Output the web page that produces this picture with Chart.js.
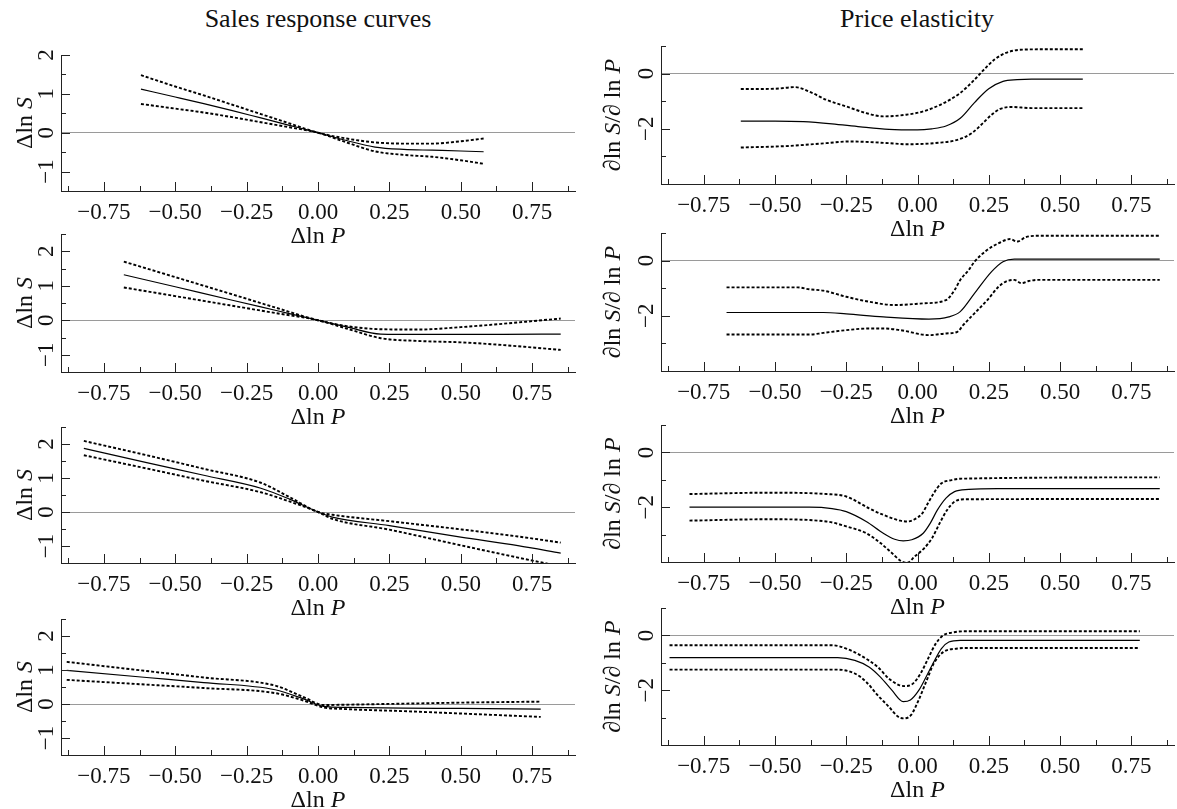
<!DOCTYPE html>
<html>
<head>
<meta charset="utf-8">
<script src="https://cdn.jsdelivr.net/npm/chart.js@4.4.1/dist/chart.umd.min.js"></script>
<style>
  body { margin: 0; background: #fff; }
  #page { position: relative; width: 1177px; height: 809px; overflow: hidden; background: #fff; }
  #page canvas { position: absolute; }
  .coltitle { position: absolute; top: 6px; font: 26px/26px "Liberation Serif", "Times New Roman", serif; color: #111; white-space: nowrap; transform: translateX(-50%); }
</style>
</head>
<body>
<div id="page">
  <div class="coltitle" style="left:318px">Sales response curves</div>
  <div class="coltitle" style="left:917px">Price elasticity</div>
</div>
<script>
// x axis ticks (shared by all panels)
const xTickValues = [-0.875, -0.75, -0.625, -0.5, -0.375, -0.25, -0.125, 0, 0.125, 0.25, 0.375, 0.5, 0.625, 0.75, 0.875];
const xTickLabels = ['', '−0.75', '', '−0.50', '', '−0.25', '', '0.00', '', '0.25', '', '0.50', '', '0.75', ''];

// y axis ticks
const salesTicksTop = [-1, -0.5, 0, 0.5, 1, 1.5, 2];
const salesLabelsTop = ['−1', '', '0', '', '1', '', '2'];
const salesTicks = [-1, -0.5, 0, 0.5, 1, 1.5, 2, 2.5];
const salesLabels = ['−1', '', '0', '', '1', '', '2', ''];
const elastTicks = [-3, -2, -1, 0, 1];
const elastLabels = ['', '−2', '', '0', ''];

// sales response curves (left column)
const l1X = [-0.62, -0.5, -0.4, -0.3, -0.2, -0.1, 0, 0.1, 0.2, 0.3, 0.4, 0.5, 0.58];
const l1Mid = [1.12, 0.92, 0.75, 0.57, 0.38, 0.19, 0, -0.2, -0.37, -0.43, -0.45, -0.47, -0.49];
const l1Hi = [1.48, 1.19, 0.96, 0.72, 0.48, 0.24, 0, -0.15, -0.25, -0.28, -0.28, -0.22, -0.15];
const l1Lo = [0.74, 0.62, 0.52, 0.40, 0.27, 0.14, 0, -0.25, -0.48, -0.57, -0.62, -0.71, -0.80];

const l2X = [-0.68, -0.5, -0.3, -0.15, 0, 0.1, 0.22, 0.35, 0.5, 0.65, 0.85];
const l2Mid = [1.32, 0.97, 0.58, 0.29, 0, -0.19, -0.40, -0.41, -0.41, -0.41, -0.40];
const l2Hi = [1.70, 1.25, 0.75, 0.37, 0, -0.17, -0.26, -0.27, -0.20, -0.10, 0.05];
const l2Lo = [0.95, 0.70, 0.42, 0.21, 0, -0.24, -0.52, -0.60, -0.64, -0.72, -0.86];

const l3X = [-0.82, -0.6, -0.4, -0.2, -0.1, 0, 0.05, 0.25, 0.5, 0.7, 0.85];
const l3Mid = [1.87, 1.45, 1.08, 0.70, 0.38, 0, -0.15, -0.40, -0.74, -0.99, -1.21];
const l3Hi = [2.09, 1.67, 1.27, 0.86, 0.44, 0, -0.08, -0.27, -0.51, -0.72, -0.90];
const l3Lo = [1.67, 1.28, 0.92, 0.58, 0.31, 0, -0.20, -0.52, -0.98, -1.34, -1.60];

const l4X = [-0.88, -0.6, -0.4, -0.15, -0.05, 0.02, 0.1, 0.3, 0.5, 0.78];
const l4Mid = [0.99, 0.78, 0.63, 0.42, 0.15, -0.07, -0.10, -0.12, -0.13, -0.15];
const l4Hi = [1.24, 0.97, 0.78, 0.54, 0.20, -0.03, -0.02, 0.01, 0.04, 0.07];
const l4Lo = [0.71, 0.57, 0.47, 0.32, 0.10, -0.10, -0.15, -0.21, -0.28, -0.38];

// price elasticity (right column)
const r1MidX = [-0.62, -0.5, -0.4, -0.3, -0.2, -0.1, 0, 0.05, 0.1, 0.15, 0.2, 0.25, 0.3, 0.35, 0.4, 0.5, 0.58];
const r1Mid = [-1.72, -1.72, -1.74, -1.82, -1.93, -2.02, -2.04, -2.0, -1.9, -1.62, -1.05, -0.55, -0.28, -0.22, -0.2, -0.2, -0.2];
const r1HiX = [-0.62, -0.5, -0.43, -0.37, -0.32, -0.25, -0.18, -0.12, -0.04, 0.02, 0.08, 0.15, 0.2, 0.245, 0.27, 0.31, 0.37, 0.45, 0.58];
const r1Hi = [-0.56, -0.55, -0.49, -0.70, -0.95, -1.19, -1.43, -1.55, -1.49, -1.37, -1.13, -0.70, -0.22, 0.27, 0.51, 0.75, 0.87, 0.88, 0.88];
const r1LoX = [-0.62, -0.45, -0.32, -0.24, -0.1, -0.04, 0.08, 0.14, 0.19, 0.23, 0.26, 0.29, 0.33, 0.4, 0.58];
const r1Lo = [-2.68, -2.62, -2.52, -2.46, -2.52, -2.56, -2.50, -2.40, -2.16, -1.79, -1.49, -1.28, -1.21, -1.25, -1.25];

const r2MidX = [-0.67, -0.33, -0.25, -0.12, 0.04, 0.11, 0.15, 0.2, 0.26, 0.3, 0.34, 0.5, 0.85];
const r2Mid = [-1.88, -1.88, -1.93, -2.04, -2.12, -2.04, -1.85, -1.19, -0.40, -0.04, 0.05, 0.05, 0.05];
const r2HiX = [-0.67, -0.42, -0.38, -0.33, -0.25, -0.17, -0.08, 0.02, 0.1, 0.13, 0.15, 0.18, 0.2, 0.245, 0.285, 0.325, 0.35, 0.38, 0.42, 0.85];
const r2Hi = [-0.97, -0.97, -1.04, -1.09, -1.31, -1.49, -1.61, -1.55, -1.43, -1.07, -0.70, -0.34, -0.04, 0.39, 0.63, 0.78, 0.69, 0.85, 0.90, 0.90];
const r2LoX = [-0.67, -0.38, -0.33, -0.25, -0.17, -0.12, -0.06, 0.04, 0.1, 0.14, 0.16, 0.2, 0.245, 0.285, 0.31, 0.34, 0.365, 0.39, 0.42, 0.85];
const r2Lo = [-2.68, -2.68, -2.62, -2.52, -2.46, -2.46, -2.52, -2.70, -2.64, -2.58, -2.34, -1.91, -1.43, -0.94, -0.76, -0.70, -0.82, -0.74, -0.70, -0.70];

const r3MidX = [-0.8, -0.38, -0.3, -0.25, -0.18, -0.12, -0.08, -0.05, -0.02, 0.02, 0.045, 0.07, 0.1, 0.13, 0.18, 0.28, 0.85];
const r3Mid = [-2.0, -2.0, -2.05, -2.16, -2.52, -2.95, -3.17, -3.23, -3.19, -2.95, -2.58, -2.10, -1.67, -1.43, -1.35, -1.32, -1.32];
const r3HiX = [-0.8, -0.52, -0.32, -0.25, -0.17, -0.12, -0.06, -0.035, -0.01, 0.017, 0.037, 0.057, 0.084, 0.12, 0.15, 0.85];
const r3Hi = [-1.52, -1.47, -1.52, -1.61, -2.04, -2.28, -2.49, -2.52, -2.44, -2.22, -1.85, -1.49, -1.13, -1.01, -0.96, -0.91];
const r3LoX = [-0.8, -0.52, -0.32, -0.25, -0.18, -0.13, -0.09, -0.056, -0.036, -0.01, 0.024, 0.051, 0.078, 0.104, 0.13, 0.165, 0.85];
const r3Lo = [-2.49, -2.44, -2.52, -2.70, -2.95, -3.31, -3.67, -3.98, -4.03, -3.80, -3.49, -3.13, -2.58, -2.10, -1.80, -1.71, -1.70];

const r4MidX = [-0.87, -0.28, -0.22, -0.17, -0.13, -0.09, -0.05, -0.025, 0.005, 0.03, 0.057, 0.084, 0.11, 0.15, 0.78];
const r4Mid = [-0.81, -0.81, -0.91, -1.15, -1.52, -2.0, -2.42, -2.36, -2.0, -1.52, -0.97, -0.48, -0.24, -0.18, -0.18];
const r4HiX = [-0.87, -0.3, -0.25, -0.2, -0.14, -0.1, -0.063, -0.043, -0.016, 0.011, 0.037, 0.064, 0.09, 0.12, 0.165, 0.78];
const r4Hi = [-0.36, -0.36, -0.48, -0.73, -1.15, -1.58, -1.82, -1.85, -1.76, -1.39, -0.85, -0.30, 0.0, 0.10, 0.15, 0.15];
const r4LoX = [-0.87, -0.28, -0.22, -0.18, -0.14, -0.1, -0.07, -0.05, -0.023, 0.004, 0.03, 0.057, 0.09, 0.14, 0.165, 0.78];
const r4Lo = [-1.25, -1.25, -1.39, -1.70, -2.18, -2.61, -2.95, -3.03, -2.91, -2.36, -1.70, -1.03, -0.61, -0.48, -0.46, -0.46];

const SERIF = '"Liberation Serif", "Times New Roman", serif';
const TOPPAD = 14;

// column layout
const cols = [
  { canvasLeft: 0, width: 590, plotLeft: 61, plotRight: 575, yTitleX: 32,
    yTitle: [['Δln ', false], ['S', true]] },
  { canvasLeft: 590, width: 587, plotLeft: 661, plotRight: 1174, yTitleX: 620,
    yTitle: [['∂ln ', false], ['S', true], ['/∂ ln ', false], ['P', true]] }
];
const xTitle = [['Δln ', false], ['P', true]];

const pts = (xs, ys) => xs.map((x, i) => ({ x, y: ys[i] }));

const panels = [
  { col: 0, top: 55, bottom: 191, min: -1.5, max: 2, ticks: salesTicksTop, labels: salesLabelsTop,
    mid: pts(l1X, l1Mid), hi: pts(l1X, l1Hi), lo: pts(l1X, l1Lo) },
  { col: 0, top: 234, bottom: 372, min: -1.5, max: 2.5, ticks: salesTicks, labels: salesLabels,
    mid: pts(l2X, l2Mid), hi: pts(l2X, l2Hi), lo: pts(l2X, l2Lo) },
  { col: 0, top: 427, bottom: 563, min: -1.5, max: 2.5, ticks: salesTicks, labels: salesLabels,
    mid: pts(l3X, l3Mid), hi: pts(l3X, l3Hi), lo: pts(l3X, l3Lo) },
  { col: 0, top: 619, bottom: 755, min: -1.5, max: 2.5, ticks: salesTicks, labels: salesLabels,
    mid: pts(l4X, l4Mid), hi: pts(l4X, l4Hi), lo: pts(l4X, l4Lo) },
  { col: 1, top: 46, bottom: 184, min: -4, max: 1, ticks: elastTicks, labels: elastLabels,
    mid: pts(r1MidX, r1Mid), hi: pts(r1HiX, r1Hi), lo: pts(r1LoX, r1Lo) },
  { col: 1, top: 233, bottom: 371, min: -4, max: 1, ticks: elastTicks, labels: elastLabels,
    mid: pts(r2MidX, r2Mid), hi: pts(r2HiX, r2Hi), lo: pts(r2LoX, r2Lo) },
  { col: 1, top: 425, bottom: 562, min: -4, max: 1, ticks: elastTicks, labels: elastLabels,
    mid: pts(r3MidX, r3Mid), hi: pts(r3HiX, r3Hi), lo: pts(r3LoX, r3Lo) },
  { col: 1, top: 608, bottom: 745, min: -4, max: 1, ticks: elastTicks, labels: elastLabels,
    mid: pts(r4MidX, r4Mid), hi: pts(r4HiX, r4Hi), lo: pts(r4LoX, r4Lo) }
];

// text with italic parts, centred on (x, y), optionally rotated
function drawRich(ctx, parts, x, y, rot, size) {
  ctx.save();
  ctx.translate(x, y);
  ctx.rotate(rot);
  ctx.textAlign = 'left';
  ctx.textBaseline = 'alphabetic';
  const fonts = parts.map(p => (p[1] ? 'italic ' : '') + size + 'px ' + SERIF);
  let total = 0;
  const widths = parts.map((p, i) => { ctx.font = fonts[i]; const w = ctx.measureText(p[0]).width; total += w; return w; });
  let cx = -total / 2;
  parts.forEach((p, i) => { ctx.font = fonts[i]; ctx.fillText(p[0], cx, 0); cx += widths[i]; });
  ctx.restore();
}

// inward tick marks, rotated y labels and axis titles
const axisDecor = {
  id: 'axisDecor',
  afterDraw(chart, args, opts) {
    const { ctx, chartArea: a, scales: { x, y } } = chart;
    const p = opts.panel;
    const col = cols[p.col];
    ctx.save();
    ctx.strokeStyle = '#222';
    ctx.lineWidth = 1;
    ctx.beginPath();
    xTickValues.forEach((v, i) => {
      const px = Math.round(x.getPixelForValue(v)) + 0.5;
      const len = xTickLabels[i] ? 9 : 5;
      ctx.moveTo(px, a.bottom);
      ctx.lineTo(px, a.bottom - len);
    });
    p.ticks.forEach((v, i) => {
      const py = Math.round(y.getPixelForValue(v)) + 0.5;
      const len = p.labels[i] ? 9 : 5;
      ctx.moveTo(a.left, py);
      ctx.lineTo(a.left + len, py);
    });
    ctx.stroke();

    ctx.fillStyle = '#111';
    ctx.font = '23px ' + SERIF;
    ctx.textAlign = 'center';
    ctx.textBaseline = 'alphabetic';
    p.ticks.forEach((v, i) => {
      if (!p.labels[i]) return;
      ctx.save();
      ctx.translate(a.left - 8, y.getPixelForValue(v));
      ctx.rotate(-Math.PI / 2);
      ctx.fillText(p.labels[i], 0, 0);
      ctx.restore();
    });

    drawRich(ctx, xTitle, (a.left + a.right) / 2, a.bottom + 52, 0, 24);
    drawRich(ctx, col.yTitle, col.yTitleX - col.canvasLeft, (a.top + a.bottom) / 2, -Math.PI / 2, 24);
    ctx.restore();
  }
};

const page = document.getElementById('page');

panels.forEach(p => {
  const col = cols[p.col];
  const plotH = p.bottom - p.top;
  const W = col.width;
  const H = plotH + TOPPAD + 80;
  const canvas = document.createElement('canvas');
  canvas.width = W;
  canvas.height = H;
  canvas.style.left = col.canvasLeft + 'px';
  canvas.style.top = (p.top - TOPPAD) + 'px';
  page.appendChild(canvas);

  const line = (data, dotted) => ({
    data,
    borderColor: '#000',
    borderWidth: dotted ? 1.9 : 1.2,
    borderDash: dotted ? [3, 2] : [],
    pointRadius: 0,
    fill: false,
    tension: 0.4,
    cubicInterpolationMode: 'monotone'
  });

  new Chart(canvas, {
    type: 'line',
    data: { datasets: [line(p.hi, true), line(p.lo, true), line(p.mid, false)] },
    options: {
      responsive: false,
      animation: false,
      events: [],
      layout: { padding: { left: 0, top: TOPPAD, right: W - (col.plotRight - col.canvasLeft), bottom: 0 } },
      plugins: { legend: { display: false }, tooltip: { enabled: false }, axisDecor: { panel: p } },
      scales: {
        x: {
          type: 'linear', min: -0.9, max: 0.9,
          afterBuildTicks: s => { s.ticks = xTickValues.map(v => ({ value: v })); },
          afterFit: s => { s.height = H - TOPPAD - plotH; },
          grid: { display: true, drawTicks: false, color: 'rgba(0,0,0,0)' },
          border: { display: true, color: '#222', width: 1 },
          ticks: {
            autoSkip: false, maxRotation: 0, minRotation: 0, padding: 8, color: '#111',
            font: { family: SERIF, size: 23 },
            callback: (v, i) => xTickLabels[i]
          }
        },
        y: {
          type: 'linear', min: p.min, max: p.max,
          afterBuildTicks: s => { s.ticks = p.ticks.map(v => ({ value: v })); },
          afterFit: s => { s.width = col.plotLeft - col.canvasLeft; },
          grid: {
            drawTicks: false, lineWidth: 1,
            color: c => (c.tick && c.tick.value === 0 ? '#9a9a9a' : 'rgba(0,0,0,0)')
          },
          border: { display: true, color: '#222', width: 1 },
          ticks: { display: false }
        }
      }
    },
    plugins: [axisDecor]
  });
});
</script>
</body>
</html>
